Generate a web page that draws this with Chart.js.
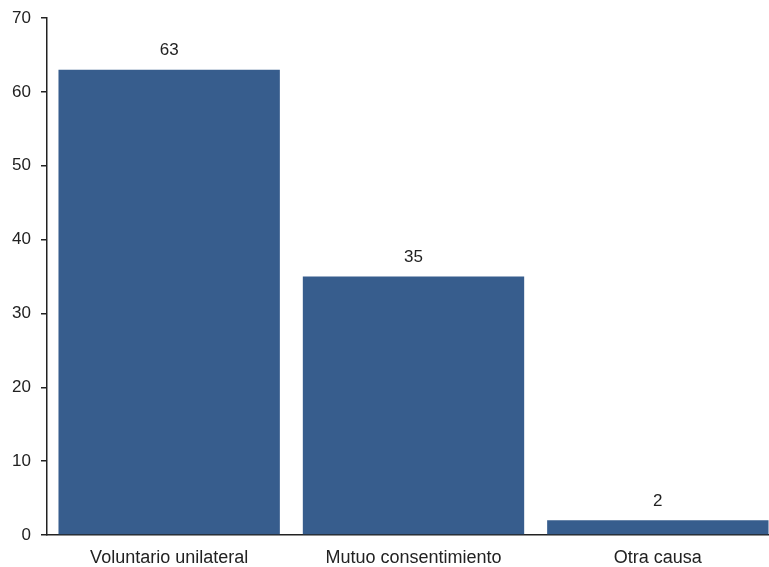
<!DOCTYPE html>
<html>
<head>
<meta charset="utf-8">
<script src="https://cdn.jsdelivr.net/npm/chart.js@4/dist/chart.umd.min.js"></script>
<style>
html,body{margin:0;padding:0;overflow:hidden;background:#fff;}
#wrap{width:781px;height:567px;}
</style>
</head>
<body>
<div id="wrap"><canvas id="c" width="781" height="567"></canvas></div>
<script>
const categories = ["Voluntario unilateral", "Mutuo consentimiento", "Otra causa"];
const values = [63, 35, 2];
const yTicks = [0, 10, 20, 30, 40, 50, 60, 70];

const FONT = '"Liberation Sans", Arial, sans-serif';

const labelPlugin = {
  id: 'barLabels',
  afterDatasetsDraw(chart) {
    const ctx = chart.ctx;
    const meta = chart.getDatasetMeta(0);
    ctx.save();
    ctx.font = '17px ' + FONT;
    ctx.fillStyle = '#222';
    ctx.textAlign = 'center';
    ctx.textBaseline = 'middle';
    meta.data.forEach((bar, i) => {
      ctx.fillText(String(values[i]), bar.x, bar.y - 19);
    });
    ctx.restore();
  }
};

new Chart(document.getElementById('c'), {
  type: 'bar',
  data: {
    labels: categories,
    datasets: [{
      data: values,
      backgroundColor: '#375d8d',
      borderWidth: 0,
      barPercentage: 0.906,
      categoryPercentage: 1.0
    }]
  },
  options: {
    responsive: false,
    animation: false,
    devicePixelRatio: 1,
    layout: { padding: { top: 18, right: 1, left: 0, bottom: 0 } },
    plugins: { legend: { display: false }, tooltip: { enabled: false } },
    scales: {
      x: {
        grid: { display: false },
        border: { display: true, color: '#222', width: 1.5 },
        ticks: { color: '#222', font: { family: FONT, size: 18 }, padding: 4 },
        afterFit(s) { s.height = 32; s.paddingLeft = 0; s.paddingRight = 0; }
      },
      y: {
        min: 0, max: 70,
        afterBuildTicks(s) { s.ticks = yTicks.map(v => ({ value: v })); },
        grid: { drawOnChartArea: false, drawTicks: true, tickLength: 6, color: '#222', lineWidth: 1.5 },
        border: { display: true, color: '#222', width: 1.5 },
        ticks: { color: '#222', font: { family: FONT, size: 17 }, padding: 10 },
        afterFit(s) { s.width = 47; s.paddingTop = 0; s.paddingBottom = 0; }
      }
    }
  },
  plugins: [labelPlugin]
});
</script>
</body>
</html>
